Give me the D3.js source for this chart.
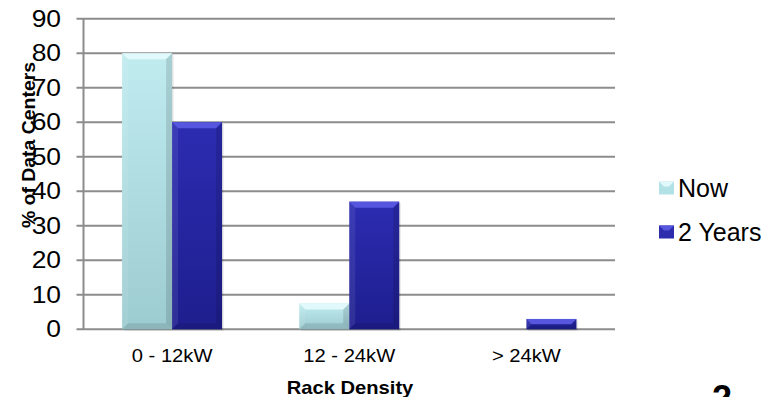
<!DOCTYPE html>
<html><head><meta charset="utf-8">
<script src="https://cdn.jsdelivr.net/npm/d3@7"></script>
<style>body{margin:0;background:#fff}svg{display:block;font-family:"Liberation Sans",Arial,sans-serif}</style>
</head><body><svg id="c" width="780" height="397"></svg>
<script>
const categories = ["0 - 12kW", "12 - 24kW", "> 24kW"];
const seriesNames = ["Now", "2 Years"];
const nowValues = [80, 7.5, 0];
const twoYearValues = [60, 37, 3];
const yTicks = [0, 10, 20, 30, 40, 50, 60, 70, 80, 90];
const yTitle = "% of Data Centers";
const xTitle = "Rack Density";

const svg = d3.select("#c");
const L = 83.5, R = 615, T = 18.8, B = 329.3;
const x0 = d3.scaleBand().domain(categories).range([L, R]).padding(0);
const groupW = 100;
const x1 = d3.scaleBand().domain(seriesNames).range([0, groupW]).padding(0);
const y = d3.scaleLinear().domain([0, 90]).range([B, T]);

const defs = svg.append("defs");
function grad(id, stops) {
  const g = defs.append("linearGradient").attr("id", id).attr("x1", 0).attr("x2", 0).attr("y1", 0).attr("y2", 1);
  stops.forEach(s => g.append("stop").attr("offset", s[0]).attr("stop-color", s[1]));
}
grad("gNow", [[0, "#c0ecf0"], [1, "#9ccbd0"]]);
grad("g2Y", [[0, "#2c2cb2"], [1, "#1e1e8e"]]);
const colors = {"Now": "url(#gNow)", "2 Years": "url(#g2Y)"};
const bevel = {"Now": "#e2f9fb", "2 Years": "#5656de"};
const flat = {"Now": "#b2e1e6", "2 Years": "#2c2cac"};

svg.append("g").selectAll("line").data(yTicks).join("line")
  .attr("x1", L - 7).attr("x2", R).attr("y1", d => y(d)).attr("y2", d => y(d))
  .attr("stroke", "#8c8c8c").attr("stroke-width", 2);
svg.append("line").attr("x1", L).attr("x2", L).attr("y1", y(90)).attr("y2", y(0))
  .attr("stroke", "#8c8c8c").attr("stroke-width", 2);

function stext(g, txt, xx, yy, size, weight, anchor, sx) {
  return g.append("text").attr("transform", `translate(${xx},${yy}) scale(${sx},1)`)
    .attr("text-anchor", anchor).attr("font-size", size).attr("font-weight", weight)
    .attr("fill", "#000").text(txt);
}
const yl = svg.append("g");
yTicks.forEach(t => stext(yl, String(t), 61, y(t) + 8, 24, "normal", "end", 1.1));

const data = categories.map((c, i) => ({cat: c, vals: [{s: "Now", v: nowValues[i]}, {s: "2 Years", v: twoYearValues[i]}]}));
const groups = svg.append("g").selectAll("g").data(data).join("g")
  .attr("transform", d => `translate(${x0(d.cat) + (x0.bandwidth() - groupW) / 2},0)`);
groups.each(function (d) {
  const g = d3.select(this);
  d.vals.forEach(b => {
    if (b.v <= 0) return;
    const bx = x1(b.s), bw = x1.bandwidth(), by = y(b.v), bh = y(0) - y(b.v);
    g.append("rect").attr("x", bx + 1.5).attr("y", by + 1.5).attr("width", bw).attr("height", bh)
      .attr("fill", "#000").attr("opacity", 0.1);
    g.append("rect").attr("x", bx).attr("y", by).attr("width", bw).attr("height", bh).attr("fill", colors[b.s]);
    const bv = Math.min(6, bh / 2);
    g.append("path").attr("d", `M${bx},${by}L${bx + bw},${by}L${bx + bw - bv},${by + bv}L${bx + bv},${by + bv}Z`)
      .attr("fill", bevel[b.s]);
    g.append("path").attr("d", `M${bx},${by}L${bx + bv},${by + bv}L${bx + bv},${by + bh - bv}L${bx},${by + bh}Z`)
      .attr("fill", "#fff").attr("opacity", 0.08);
    g.append("path").attr("d", `M${bx + bw},${by}L${bx + bw - bv},${by + bv}L${bx + bw - bv},${by + bh - bv}L${bx + bw},${by + bh}Z`)
      .attr("fill", "#000").attr("opacity", 0.12);
    g.append("path").attr("d", `M${bx},${by + bh}L${bx + bw},${by + bh}L${bx + bw - bv},${by + bh - bv}L${bx + bv},${by + bh - bv}Z`)
      .attr("fill", "#000").attr("opacity", 0.1);
  });
});

const xl = svg.append("g");
categories.forEach(c => stext(xl, c, x0(c) + x0.bandwidth() / 2, 362, 18, "normal", "middle", 1.12));
stext(svg, xTitle, 350, 394, 18, "bold", "middle", 1.12);
svg.append("text").attr("transform", `translate(35,145) rotate(-90) scale(1.08,1)`)
  .attr("text-anchor", "middle").attr("font-size", 18).attr("font-weight", "bold").text(yTitle);

const lg = svg.append("g");
seriesNames.forEach((s, i) => {
  const ly = 188 + i * 44;
  lg.append("rect").attr("x", 659).attr("y", ly - 6.5).attr("width", 15).attr("height", 13).attr("fill", flat[s]);
  lg.append("path").attr("d", `M659,${ly - 6.5}L674,${ly - 6.5}L669,${ly - 1.5}L664,${ly - 1.5}Z`).attr("fill", bevel[s]);
  lg.append("text").attr("x", 678).attr("y", ly + 9).attr("font-size", 25).text(s);
});

svg.append("text").attr("x", 712).attr("y", 411).attr("font-size", 36).attr("font-weight", "bold").text("2");
</script></body></html>
